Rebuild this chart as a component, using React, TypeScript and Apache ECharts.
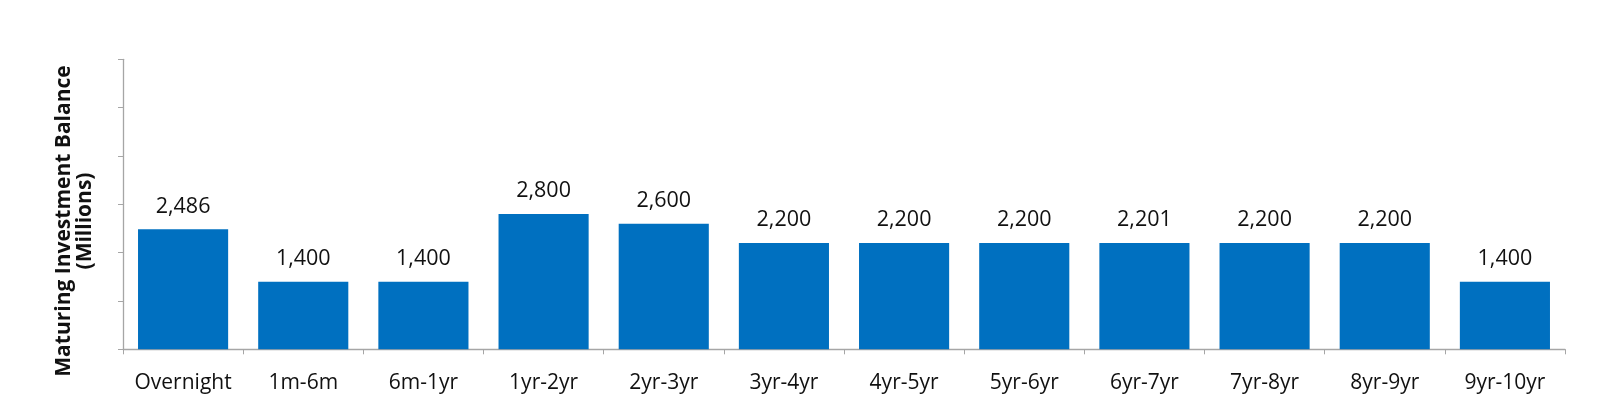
import React, { useEffect, useRef } from "react";
import * as echarts from "echarts";

const categories = ["Overnight", "1m-6m", "6m-1yr", "1yr-2yr", "2yr-3yr", "3yr-4yr", "4yr-5yr", "5yr-6yr", "6yr-7yr", "7yr-8yr", "8yr-9yr", "9yr-10yr"];
const balances = [2486, 1400, 1400, 2800, 2600, 2200, 2200, 2200, 2201, 2200, 2200, 1400];
const yTitleLines = ["Maturing Investment Balance", "(Millions)"];

const FONT = "'Open Sans', 'Liberation Sans', sans-serif";

export default function App() {
  const ref = useRef<HTMLDivElement>(null);
  useEffect(() => {
    if (!ref.current) return;
    const chart = echarts.init(ref.current, null, { renderer: "svg" });
    chart.setOption({
      animation: false,
      grid: { left: 123, right: 35, top: 59.3, bottom: 58.7 },
      xAxis: {
        type: "category",
        data: categories,
        axisLine: { lineStyle: { color: "#A6A6A6", width: 1.3 } },
        axisTick: { show: true, interval: 0, length: 5, lineStyle: { color: "#A6A6A6" } },
        axisLabel: { color: "#111", fontSize: 21, fontFamily: FONT, margin: 21, interval: 0, hideOverlap: false },
      },
      yAxis: {
        type: "value",
        min: 0,
        max: 6000,
        interval: 1000,
        axisLine: { show: true, lineStyle: { color: "#A6A6A6", width: 1.3 } },
        axisTick: { show: true, length: 5, lineStyle: { color: "#A6A6A6" } },
        axisLabel: { show: false },
        splitLine: { show: false },
      },
      series: [
        {
          type: "bar",
          data: balances,
          barCategoryGap: "25%",
          itemStyle: { color: "#0070C0" },
          label: {
            show: true,
            position: "top",
            distance: 14,
            color: "#111",
            fontSize: 21.5,
            fontFamily: FONT,
            formatter: (p: any) => Number(p.value).toLocaleString("en-US"),
          },
        },
      ],
      graphic: [
        {
          type: "text",
          x: 72,
          y: 221,
          rotation: Math.PI / 2,
          style: {
            text: yTitleLines.join("\n"),
            fill: "#111",
            font: `bold 21px ${FONT}`,
            align: "center",
            verticalAlign: "middle",
            lineHeight: 21,
          },
        },
      ],
    });
    return () => chart.dispose();
  }, []);
  return <div ref={ref} style={{ position: "fixed", left: 0, top: 0, width: 1600, height: 408 }} />;
}
